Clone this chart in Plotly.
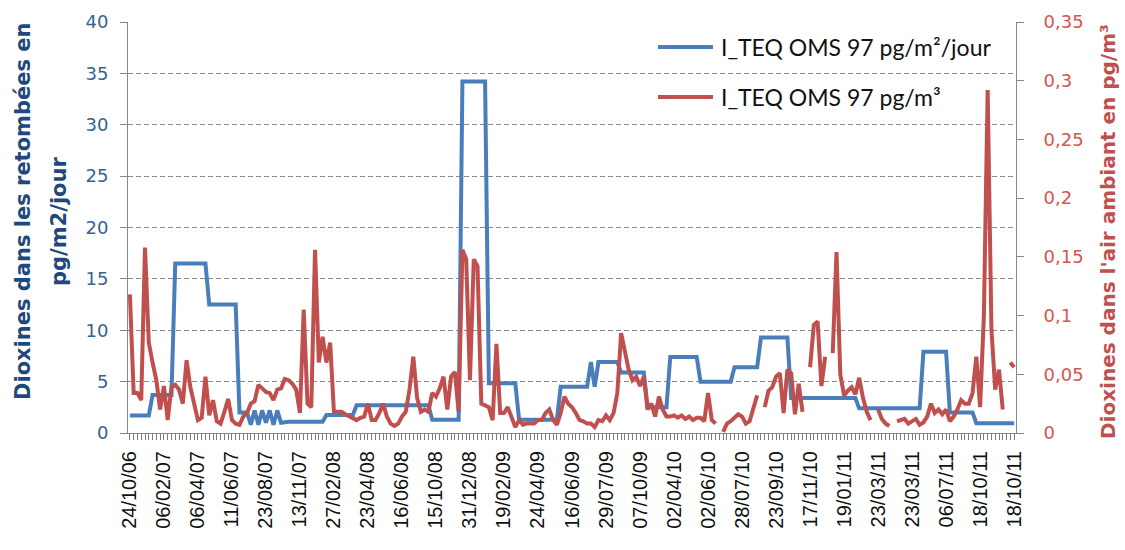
import plotly.graph_objects as go

# ---------------- data ----------------
tick_labels = ["24/10/06", "06/02/07", "06/04/07", "11/06/07", "23/08/07", "13/11/07",
               "27/02/08", "23/04/08", "16/06/08", "15/10/08", "31/12/08", "19/02/09",
               "24/04/09", "16/06/09", "29/07/09", "07/10/09", "02/04/10", "02/06/10",
               "28/07/10", "23/09/10", "17/11/10", "19/01/11", "23/03/11", "23/03/11",
               "06/07/11", "18/10/11", "18/10/11"]
label_step = 9

# deposition, pg/m2/jour (left axis)
retombees = [
    1.7, 1.7, 1.7, 1.7, 1.7, 1.7, 3.7, 3.7, 3.7, 3.7, 3.7, 3.7,
    16.5, 16.5, 16.5, 16.5, 16.5, 16.5, 16.5, 16.5, 16.5,
    12.5, 12.5, 12.5, 12.5, 12.5, 12.5, 12.5, 12.5,
    2.0, 2.0, 2.0, 0.8, 2.2, 0.8, 2.2, 1.0, 2.2, 0.8, 2.2, 1.0,
    1.1, 1.1, 1.1, 1.1, 1.1, 1.1, 1.1, 1.1, 1.1, 1.1, 1.1,
    1.75, 1.75, 1.75, 1.75, 1.75, 1.75, 1.75, 1.75,
    2.7, 2.7, 2.7, 2.7, 2.7, 2.7, 2.7, 2.7, 2.7, 2.7,
    2.7, 2.7, 2.7, 2.7, 2.7, 2.7, 2.7, 2.7, 2.7, 2.7,
    1.3, 1.3, 1.3, 1.3, 1.3, 1.3, 1.3, 1.3,
    34.2, 34.2, 34.2, 34.2, 34.2, 34.2, 34.2,
    4.85, 4.85, 4.85, 4.85, 4.85, 4.85, 4.85, 4.85,
    1.3, 1.3, 1.3, 1.3, 1.3, 1.3, 1.3, 1.3, 1.3, 1.3, 1.3,
    4.5, 4.5, 4.5, 4.5, 4.5, 4.5, 4.5, 4.5, 6.9, 4.5,
    6.9, 6.9, 6.9, 6.9, 6.9, 6.9,
    5.9, 5.9, 5.9, 5.9, 5.9, 5.9, 5.9,
    2.5, 2.5, 2.5, 2.5, 2.5, 2.5,
    7.4, 7.4, 7.4, 7.4, 7.4, 7.4, 7.4, 7.4,
    5.0, 5.0, 5.0, 5.0, 5.0, 5.0, 5.0, 5.0, 5.0,
    6.4, 6.4, 6.4, 6.4, 6.4, 6.4, 6.4,
    9.3, 9.3, 9.3, 9.3, 9.3, 9.3, 9.3, 9.3,
    3.4, 3.4, 3.4, 3.4, 3.4, 3.4, 3.4, 3.4, 3.4,
    3.4, 3.4, 3.4, 3.4, 3.4, 3.4, 3.4, 3.4, 3.4,
    2.4, 2.4, 2.4, 2.4, 2.4, 2.4, 2.4, 2.4, 2.4,
    2.4, 2.4, 2.4, 2.4, 2.4, 2.4, 2.4, 2.4,
    7.9, 7.9, 7.9, 7.9, 7.9, 7.9, 7.9,
    2.0, 2.0, 2.0, 2.0, 2.0, 2.0, 2.0,
    0.95, 0.95, 0.95, 0.95, 0.95, 0.95, 0.95, 0.95, 0.95, 0.95, 0.95,
]

# ambient air, pg/m3 (right axis)
air_ambiant = [
    0.118, 0.034, 0.034, 0.028, 0.158, 0.077, 0.060, 0.045, 0.020, 0.040,
    0.011, 0.039, 0.041, 0.037, 0.025, 0.062, 0.039, 0.025, 0.011, 0.013,
    0.048, 0.015, 0.028, 0.010, 0.008, 0.018, 0.029, 0.011, 0.008, 0.007,
    0.014, 0.017, 0.025, 0.027, 0.041, 0.038, 0.035, 0.034, 0.028, 0.037,
    0.038, 0.046, 0.045, 0.042, 0.037, 0.017, 0.105, 0.025, 0.022, 0.156,
    0.060, 0.082, 0.060, 0.077, 0.018, 0.018, 0.018, 0.016, 0.014, 0.013,
    0.011, 0.013, 0.014, 0.025, 0.011, 0.011, 0.017, 0.025, 0.014, 0.008,
    0.006, 0.008, 0.014, 0.018, 0.037, 0.065, 0.030, 0.018, 0.020, 0.018,
    0.034, 0.031, 0.038, 0.048, 0.020, 0.048, 0.052, 0.018, 0.156, 0.148,
    0.045, 0.148, 0.142, 0.025, 0.023, 0.022, 0.011, 0.076, 0.017, 0.017,
    0.022, 0.014, 0.005, 0.011, 0.007, 0.008, 0.008, 0.008, 0.011, 0.011,
    0.017, 0.020, 0.011, 0.007, 0.017, 0.031, 0.025, 0.022, 0.017, 0.011,
    0.010, 0.008, 0.008, 0.005, 0.011, 0.010, 0.015, 0.011, 0.017, 0.034,
    0.085, 0.071, 0.054, 0.045, 0.048, 0.040, 0.048, 0.020, 0.025, 0.014,
    0.031, 0.020, 0.014, 0.014, 0.015, 0.013, 0.015, 0.012, 0.014, 0.011,
    0.013, 0.013, 0.010, 0.034, 0.011, 0.008, None, 0.001, 0.008, 0.010,
    0.013, 0.016, 0.014, 0.008, 0.010, 0.021, 0.032, None, 0.022, 0.036,
    0.039, 0.048, 0.051, 0.017, 0.054, 0.051, 0.016, 0.042, 0.018, None,
    0.056, 0.092, 0.095, 0.040, 0.065, None, 0.068, 0.154, 0.050, 0.032,
    0.036, 0.039, 0.033, 0.047, 0.030, 0.018, 0.011, None, 0.020, 0.012,
    0.008, 0.006, None, 0.010, 0.011, 0.012, 0.008, 0.010, 0.012, 0.007,
    0.009, 0.014, 0.025, 0.017, 0.020, 0.016, 0.020, 0.010, 0.014, 0.020,
    0.028, 0.025, 0.025, 0.034, 0.065, 0.022, 0.100, 0.292, 0.088, 0.037,
    0.054, 0.020, None, 0.060, 0.056,
]

series_names = ["I_TEQ OMS 97 pg/m²/jour", "I_TEQ OMS 97 pg/m³"]

# ---------------- figure ----------------
BLUE = "#4a7ebb"
RED = "#c0504d"
AXIS_GREY = "#868686"

x = list(range(len(retombees)))
xr = list(range(len(air_ambiant)))
n = len(x)

fig = go.Figure()
fig.add_trace(go.Scatter(x=x, y=retombees, mode="lines", name=series_names[0],
                         line=dict(color=BLUE, width=4), yaxis="y",
                         showlegend=False))
fig.add_trace(go.Scatter(x=xr, y=air_ambiant, mode="lines", name=series_names[1],
                         line=dict(color=RED, width=4), yaxis="y2",
                         connectgaps=False, showlegend=False))

# every category gets a tick mark; only every label_step-th shows a date
alias = {str(i): (tick_labels[i // label_step] if i % label_step == 0 else "")
         for i in x}

W, H = 1125, 550
L, R, T, B = 128, 1016, 22, 433


def px(xp):
    return (xp - L) / (R - L)


def py(yp):
    return (B - yp) / (B - T)


fig.update_layout(
    width=W, height=H,
    margin=dict(l=L, r=W - R, t=T, b=H - B),
    paper_bgcolor="white", plot_bgcolor="white",
    separators=", ",
    showlegend=False,
    xaxis=dict(
        range=[-0.5, n - 0.5],
        tickmode="linear", tick0=0, dtick=1, labelalias=alias,
        tickangle=-90, ticks="outside", ticklen=6, tickcolor="#7a7a7a",
        tickwidth=1, ticklabelstandoff=3,
        tickfont=dict(family="Liberation Sans", size=20, color="#111111"),
        showline=True, linecolor=AXIS_GREY, linewidth=1,
        showgrid=False, zeroline=False,
    ),
    yaxis=dict(
        range=[0, 40], dtick=5, tick0=0,
        ticks="outside", ticklen=7, tickcolor=AXIS_GREY,
        showline=True, linecolor=AXIS_GREY, linewidth=1,
        showgrid=True, gridcolor="#8c8c8c", gridwidth=1, griddash="5px,3px",
        zeroline=False,
        tickfont=dict(family="DejaVu Sans", size=18, color="#3a6190"),
        ticklabelstandoff=8,
    ),
    yaxis2=dict(
        range=[0, 0.35], dtick=0.05, tick0=0,
        overlaying="y", side="right", anchor="x",
        ticks="outside", ticklen=7, tickcolor=AXIS_GREY,
        showline=True, linecolor=AXIS_GREY, linewidth=1,
        showgrid=False, zeroline=False,
        tickfont=dict(family="DejaVu Sans", size=18, color="#d9534f"),
        ticklabelstandoff=16,
    ),
    shapes=[
        dict(type="line", xref="paper", yref="paper",
             x0=px(658), x1=px(713), y0=py(47), y1=py(47),
             line=dict(color=BLUE, width=4)),
        dict(type="line", xref="paper", yref="paper",
             x0=px(658), x1=px(713), y0=py(97), y1=py(97),
             line=dict(color=RED, width=4)),
    ],
    annotations=[
        dict(text=series_names[0], xref="paper", yref="paper",
             x=px(719), y=py(47), xanchor="left", yanchor="middle",
             showarrow=False, bgcolor="white",
             font=dict(family="Lato", size=23, color="#111111")),
        dict(text=series_names[1], xref="paper", yref="paper",
             x=px(719), y=py(97), xanchor="left", yanchor="middle",
             showarrow=False, bgcolor="white",
             font=dict(family="Lato", size=23, color="#111111")),
        dict(text="Dioxines dans les retombées en", xref="paper", yref="paper",
             x=px(23), y=py(211), xanchor="center", yanchor="middle",
             textangle=-90, showarrow=False,
             font=dict(family="DejaVu Sans", size=21, color="#1f497d",
                       weight="bold")),
        dict(text="pg/m2/jour", xref="paper", yref="paper",
             x=px(59), y=py(222), xanchor="center", yanchor="middle",
             textangle=-90, showarrow=False,
             font=dict(family="DejaVu Sans", size=21, color="#1f497d",
                       weight="bold")),
        dict(text="Dioxines dans l'air ambiant en pg/m³", xref="paper",
             yref="paper", x=px(1108), y=py(232), xanchor="center",
             yanchor="middle", textangle=-90, showarrow=False,
             font=dict(family="DejaVu Sans", size=20, color=RED,
                       weight="bold")),
    ],
)

fig.write_html("out.html")
